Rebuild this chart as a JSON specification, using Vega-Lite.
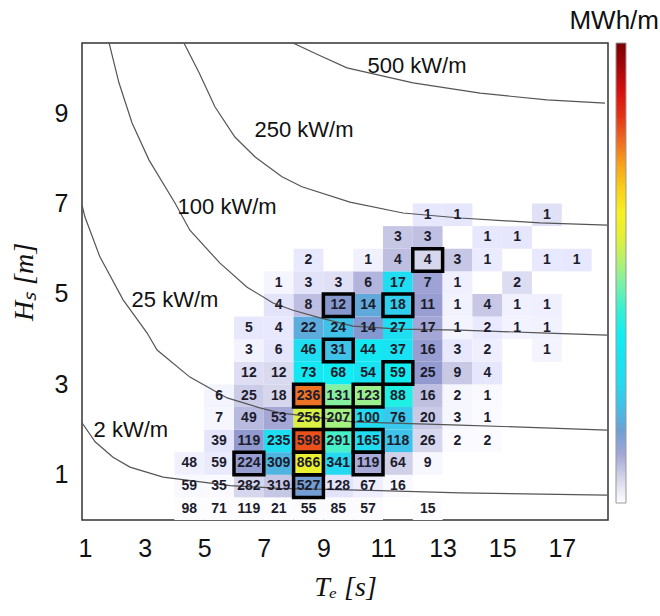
{
  "$schema": "https://vega.github.io/schema/vega-lite/v6.json",
  "width": 526,
  "height": 477,
  "autosize": "none",
  "padding": {"left": 82, "top": 43, "right": 52, "bottom": 96},
  "background": "white",
  "title": {"text": "MWh/m", "anchor": "end", "frame": "group", "font": "Liberation Sans", "fontSize": 26, "fontWeight": "normal", "color": "#111", "dx": 51, "offset": 9},
  "datasets": {
    "cells": [
      {"te":4.5,"hs":0.25,"n":98,"e":0.013},{"te":5.5,"hs":0.25,"n":71,"e":0.012},{"te":6.5,"hs":0.25,"n":119,"e":0.024},{"te":7.5,"hs":0.25,"n":21,"e":0.005},{"te":8.5,"hs":0.25,"n":55,"e":0.014},{"te":9.5,"hs":0.25,"n":85,"e":0.025},{"te":10.5,"hs":0.25,"n":57,"e":0.018},{"te":12.5,"hs":0.25,"n":15,"e":0.006},
      {"te":4.5,"hs":0.75,"n":59,"e":0.073},{"te":5.5,"hs":0.75,"n":35,"e":0.053},{"te":6.5,"hs":0.75,"n":282,"e":0.505},{"te":7.5,"hs":0.75,"n":319,"e":0.659},{"te":8.5,"hs":0.75,"n":527,"e":1.45,"hl":true},{"te":9.5,"hs":0.75,"n":128,"e":0.335},{"te":10.5,"hs":0.75,"n":67,"e":0.194},{"te":11.5,"hs":0.75,"n":16,"e":0.051},
      {"te":4.5,"hs":1.25,"n":48,"e":0.165},{"te":5.5,"hs":1.25,"n":59,"e":0.248},{"te":6.5,"hs":1.25,"n":224,"e":1.115,"hl":true},{"te":7.5,"hs":1.25,"n":309,"e":1.774},{"te":8.5,"hs":1.25,"n":866,"e":5.636,"hl":true},{"te":9.5,"hs":1.25,"n":341,"e":2.48},{"te":10.5,"hs":1.25,"n":119,"e":0.957,"hl":true},{"te":11.5,"hs":1.25,"n":64,"e":0.563},{"te":12.5,"hs":1.25,"n":9,"e":0.086},
      {"te":5.5,"hs":1.75,"n":39,"e":0.322},{"te":6.5,"hs":1.75,"n":119,"e":1.161},{"te":7.5,"hs":1.75,"n":235,"e":2.645},{"te":8.5,"hs":1.75,"n":598,"e":7.628,"hl":true},{"te":9.5,"hs":1.75,"n":291,"e":4.148},{"te":10.5,"hs":1.75,"n":165,"e":2.6,"hl":true},{"te":11.5,"hs":1.75,"n":118,"e":2.036},{"te":12.5,"hs":1.75,"n":26,"e":0.488},{"te":13.5,"hs":1.75,"n":2,"e":0.041},{"te":14.5,"hs":1.75,"n":2,"e":0.044},
      {"te":5.5,"hs":2.25,"n":7,"e":0.096},{"te":6.5,"hs":2.25,"n":49,"e":0.79},{"te":7.5,"hs":2.25,"n":53,"e":0.986},{"te":8.5,"hs":2.25,"n":256,"e":5.398},{"te":9.5,"hs":2.25,"n":207,"e":4.878,"hl":true},{"te":10.5,"hs":2.25,"n":100,"e":2.605},{"te":11.5,"hs":2.25,"n":76,"e":2.168},{"te":12.5,"hs":2.25,"n":20,"e":0.62},{"te":13.5,"hs":2.25,"n":3,"e":0.1},{"te":14.5,"hs":2.25,"n":1,"e":0.036},
      {"te":5.5,"hs":2.75,"n":6,"e":0.122},{"te":6.5,"hs":2.75,"n":25,"e":0.602},{"te":7.5,"hs":2.75,"n":18,"e":0.5},{"te":8.5,"hs":2.75,"n":236,"e":7.433,"hl":true},{"te":9.5,"hs":2.75,"n":131,"e":4.612},{"te":10.5,"hs":2.75,"n":123,"e":4.786,"hl":true},{"te":11.5,"hs":2.75,"n":88,"e":3.75},{"te":12.5,"hs":2.75,"n":16,"e":0.741},{"te":13.5,"hs":2.75,"n":2,"e":0.1},{"te":14.5,"hs":2.75,"n":1,"e":0.054},
      {"te":6.5,"hs":3.25,"n":12,"e":0.404},{"te":7.5,"hs":3.25,"n":12,"e":0.466},{"te":8.5,"hs":3.25,"n":73,"e":3.211},{"te":9.5,"hs":3.25,"n":68,"e":3.343},{"te":10.5,"hs":3.25,"n":54,"e":2.935},{"te":11.5,"hs":3.25,"n":59,"e":3.512,"hl":true},{"te":12.5,"hs":3.25,"n":25,"e":1.15},{"te":13.5,"hs":3.25,"n":9,"e":0.629},{"te":14.5,"hs":3.25,"n":4,"e":0.3},
      {"te":6.5,"hs":3.75,"n":3,"e":0.134},{"te":7.5,"hs":3.75,"n":6,"e":0.31},{"te":8.5,"hs":3.75,"n":46,"e":2.694},{"te":9.5,"hs":3.75,"n":31,"e":2.029,"hl":true},{"te":10.5,"hs":3.75,"n":44,"e":3.183},{"te":11.5,"hs":3.75,"n":37,"e":2.932},{"te":12.5,"hs":3.75,"n":16,"e":1.1},{"te":13.5,"hs":3.75,"n":3,"e":0.279},{"te":14.5,"hs":3.75,"n":2,"e":0.2},{"te":16.5,"hs":3.75,"n":1,"e":0.114},
      {"te":6.5,"hs":4.25,"n":5,"e":0.288},{"te":7.5,"hs":4.25,"n":4,"e":0.266},{"te":8.5,"hs":4.25,"n":22,"e":1.655},{"te":9.5,"hs":4.25,"n":24,"e":2.018},{"te":10.5,"hs":4.25,"n":14,"e":1.301},{"te":11.5,"hs":4.25,"n":27,"e":2.748},{"te":12.5,"hs":4.25,"n":17,"e":1.0},{"te":13.5,"hs":4.25,"n":1,"e":0.119},{"te":14.5,"hs":4.25,"n":2,"e":0.257},{"te":15.5,"hs":4.25,"n":1,"e":0.137},{"te":16.5,"hs":4.25,"n":1,"e":0.146},
      {"te":7.5,"hs":4.75,"n":4,"e":0.332},{"te":8.5,"hs":4.75,"n":8,"e":0.752},{"te":9.5,"hs":4.75,"n":12,"e":1.261,"hl":true},{"te":10.5,"hs":4.75,"n":14,"e":1.626},{"te":11.5,"hs":4.75,"n":18,"e":2.289,"hl":true},{"te":12.5,"hs":4.75,"n":11,"e":1.1},{"te":13.5,"hs":4.75,"n":1,"e":0.149},{"te":14.5,"hs":4.75,"n":4,"e":0.641},{"te":15.5,"hs":4.75,"n":1,"e":0.171},{"te":16.5,"hs":4.75,"n":1,"e":0.182},
      {"te":7.5,"hs":5.25,"n":1,"e":0.101},{"te":8.5,"hs":5.25,"n":3,"e":0.344},{"te":9.5,"hs":5.25,"n":3,"e":0.385},{"te":10.5,"hs":5.25,"n":6,"e":0.851},{"te":11.5,"hs":5.25,"n":17,"e":2.639},{"te":12.5,"hs":5.25,"n":7,"e":1.05},{"te":13.5,"hs":5.25,"n":1,"e":0.182},{"te":15.5,"hs":5.25,"n":2,"e":0.419},
      {"te":8.5,"hs":5.75,"n":2,"e":0.275},{"te":10.5,"hs":5.75,"n":1,"e":0.17},{"te":11.5,"hs":5.75,"n":4,"e":0.745},{"te":12.5,"hs":5.75,"n":4,"e":0.5,"hl":true},{"te":13.5,"hs":5.75,"n":3,"e":0.656},{"te":14.5,"hs":5.75,"n":1,"e":0.235},{"te":16.5,"hs":5.75,"n":1,"e":0.267},{"te":17.5,"hs":5.75,"n":1,"e":0.284},
      {"te":11.5,"hs":6.25,"n":3,"e":0.66},{"te":12.5,"hs":6.25,"n":3,"e":0.718},{"te":14.5,"hs":6.25,"n":1,"e":0.278},{"te":15.5,"hs":6.25,"n":1,"e":0.297},
      {"te":12.5,"hs":6.75,"n":1,"e":0.279},{"te":13.5,"hs":6.75,"n":1,"e":0.301},{"te":16.5,"hs":6.75,"n":1,"e":0.368}
    ],
    "lines": [
      {"p":"500","te":7.98,"hs":10.55},{"p":"500","te":8.82,"hs":10.29},{"p":"500","te":9.79,"hs":10.0},{"p":"500","te":12.01,"hs":9.67},{"p":"500","te":14.26,"hs":9.44},{"p":"500","te":16.5,"hs":9.29},{"p":"500","te":18.45,"hs":9.22},
      {"p":"250","te":4.32,"hs":10.55},{"p":"250","te":4.83,"hs":9.89},{"p":"250","te":5.36,"hs":9.14},{"p":"250","te":6.03,"hs":8.47},{"p":"250","te":6.71,"hs":8.03},{"p":"250","te":7.61,"hs":7.59},{"p":"250","te":8.28,"hs":7.37},{"p":"250","te":9.89,"hs":7.03},{"p":"250","te":11.67,"hs":6.79},{"p":"250","te":13.58,"hs":6.68},{"p":"250","te":16.27,"hs":6.57},{"p":"250","te":18.52,"hs":6.52},
      {"p":"100","te":1.81,"hs":10.55},{"p":"100","te":2.14,"hs":9.67},{"p":"100","te":2.58,"hs":8.78},{"p":"100","te":3.15,"hs":7.96},{"p":"100","te":4.02,"hs":7.01},{"p":"100","te":4.52,"hs":6.41},{"p":"100","te":5.53,"hs":5.68},{"p":"100","te":6.44,"hs":5.15},{"p":"100","te":7.31,"hs":4.8},{"p":"100","te":7.98,"hs":4.64},{"p":"100","te":8.89,"hs":4.47},{"p":"100","te":9.99,"hs":4.29},{"p":"100","te":11.57,"hs":4.22},{"p":"100","te":13.58,"hs":4.2},{"p":"100","te":16.27,"hs":4.14},{"p":"100","te":18.52,"hs":4.09},
      {"p":"25","te":0.9,"hs":6.97},{"p":"25","te":1.0,"hs":6.7},{"p":"25","te":1.5,"hs":5.82},{"p":"25","te":2.28,"hs":4.87},{"p":"25","te":3.08,"hs":4.14},{"p":"25","te":3.42,"hs":3.76},{"p":"25","te":4.52,"hs":3.16},{"p":"25","te":5.77,"hs":2.7},{"p":"25","te":6.87,"hs":2.48},{"p":"25","te":7.54,"hs":2.37},{"p":"25","te":9.99,"hs":2.17},{"p":"25","te":13.58,"hs":2.1},{"p":"25","te":18.52,"hs":1.99},
      {"p":"2","te":0.9,"hs":2.15},{"p":"2","te":1.34,"hs":1.73},{"p":"2","te":1.94,"hs":1.39},{"p":"2","te":2.51,"hs":1.17},{"p":"2","te":3.62,"hs":0.95},{"p":"2","te":5.87,"hs":0.76},{"p":"2","te":7.54,"hs":0.7},{"p":"2","te":10.9,"hs":0.65},{"p":"2","te":13.58,"hs":0.6},{"p":"2","te":18.52,"hs":0.55}
    ],
    "labels": [
      {"t":"500 kW/m","te":12.14,"hs":10.04},
      {"t":"250 kW/m","te":8.35,"hs":8.63},
      {"t":"100 kW/m","te":5.77,"hs":6.92},
      {"t":"25 kW/m","te":4.02,"hs":4.87},
      {"t":"2 kW/m","te":2.54,"hs":1.99}
    ]
  },
  "layer": [
    {
      "data": {"name": "cells"},
      "transform": [
        {"bin": {"step": 1, "extent": [0, 19], "nice": false}, "field": "te", "as": ["t0", "t1"]},
        {"bin": {"step": 0.5, "extent": [0, 10.5], "nice": false}, "field": "hs", "as": ["h0", "h1"]}
      ],
      "mark": {"type": "rect"},
      "encoding": {
        "x": {"field": "t0", "type": "quantitative", "title": "Tₑ [s]", "scale": {"domain": [0.9, 18.55], "nice": false, "zero": false}, "axis": {"values": [1, 3, 5, 7, 9, 11, 13, 15, 17]}},
        "x2": {"field": "t1"},
        "y": {"field": "h0", "type": "quantitative", "title": "Hₛ [m]", "scale": {"domain": [0, 10.55], "nice": false, "zero": false}, "axis": {"values": [1, 3, 5, 7, 9]}},
        "y2": {"field": "h1"},
        "color": {
          "field": "e", "type": "quantitative",
          "scale": {
            "domain": [0, 0.5, 1.0, 1.2, 1.5, 1.8, 2.5, 3.5, 4.1, 4.7, 5.0, 5.5, 6.0, 6.6, 7.4, 7.7, 8.5, 9.5],
            "range": ["#ffffff", "#d6d6ec", "#a4a6d6", "#8c96cc", "#6ea0d4", "#4cb6e2", "#24daf0", "#10eef2", "#40f0cc", "#90f098", "#b4f070", "#e4f034", "#f8f020", "#f8c818", "#f07828", "#e84018", "#d81010", "#7a0000"]
          },
          "legend": {"orient": "none", "legendX": 534, "legendY": 0, "direction": "vertical", "gradientLength": 460, "gradientThickness": 10, "title": null, "labelOpacity": 0, "gradientStrokeColor": "#999", "gradientStrokeWidth": 1}
        }
      }
    },
    {
      "data": {"name": "lines"},
      "mark": {"type": "line", "stroke": "#555", "strokeWidth": 1.2, "clip": true},
      "encoding": {
        "x": {"field": "te", "type": "quantitative", "title": "Tₑ [s]"},
        "y": {"field": "hs", "type": "quantitative", "title": "Hₛ [m]"},
        "detail": {"field": "p"}
      }
    },
    {
      "data": {"name": "cells"},
      "transform": [
        {"filter": "datum.hl === true"},
        {"bin": {"step": 1, "extent": [0, 19], "nice": false}, "field": "te", "as": ["t0", "t1"]},
        {"bin": {"step": 0.5, "extent": [0, 10.5], "nice": false}, "field": "hs", "as": ["h0", "h1"]}
      ],
      "mark": {"type": "rect", "fillOpacity": 0, "stroke": "#000", "strokeWidth": 3.5},
      "encoding": {
        "x": {"field": "t0", "type": "quantitative", "title": "Tₑ [s]"},
        "x2": {"field": "t1"},
        "y": {"field": "h0", "type": "quantitative", "title": "Hₛ [m]"},
        "y2": {"field": "h1"}
      }
    },
    {
      "data": {"name": "cells"},
      "mark": {"type": "text", "font": "Liberation Sans", "fontSize": 14, "fontWeight": "bold", "color": "#1c1c2c", "baseline": "middle", "align": "center"},
      "encoding": {
        "x": {"field": "te", "type": "quantitative", "title": "Tₑ [s]"},
        "y": {"field": "hs", "type": "quantitative", "title": "Hₛ [m]"},
        "text": {"field": "n", "type": "quantitative"}
      }
    },
    {
      "data": {"name": "labels"},
      "mark": {"type": "text", "font": "Liberation Sans", "fontSize": 22, "color": "#111", "baseline": "middle", "align": "center"},
      "encoding": {
        "x": {"field": "te", "type": "quantitative", "title": "Tₑ [s]"},
        "y": {"field": "hs", "type": "quantitative", "title": "Hₛ [m]"},
        "text": {"field": "t"}
      }
    }
  ],
  "config": {
    "view": {"stroke": "#333", "strokeWidth": 1.5},
    "axisX": {"ticks": false, "domain": false, "grid": false, "labelFont": "Liberation Sans", "labelFontSize": 25, "labelColor": "#111", "labelPadding": 16, "labelFlush": false, "labelOverlap": false, "titleFont": "Liberation Serif", "titleFontSize": 28, "titleFontStyle": "italic", "titleFontWeight": "normal", "titleColor": "#111", "titlePadding": 12},
    "axisY": {"ticks": false, "domain": false, "grid": false, "labelFont": "Liberation Sans", "labelFontSize": 25, "labelColor": "#111", "labelPadding": 14, "labelFlush": false, "labelOverlap": false, "titleFont": "Liberation Serif", "titleFontSize": 28, "titleFontStyle": "italic", "titleFontWeight": "normal", "titleColor": "#111", "titlePadding": 16}
  }
}
